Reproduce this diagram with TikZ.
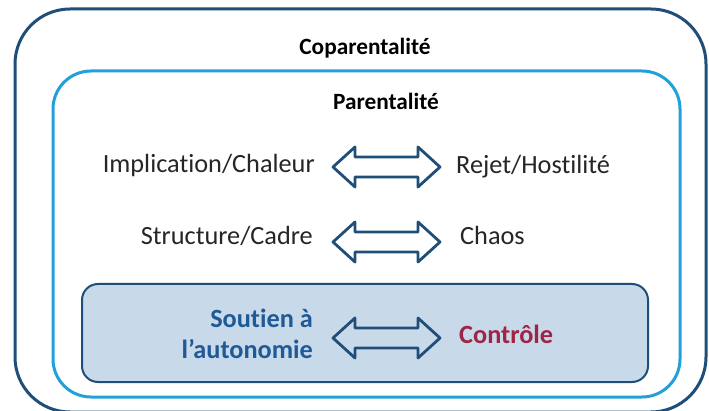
\documentclass[tikz,border=0pt]{standalone}
\usepackage{fontspec}
\setmainfont[Ligatures={NoCommon}]{Carlito}
\definecolor{outerblue}{HTML}{1F4E79}
\definecolor{innerblue}{HTML}{22A0DA}
\definecolor{boxfill}{HTML}{C8D9EA}
\definecolor{txtblue}{HTML}{1F5A96}
\definecolor{txtred}{HTML}{9E2545}
\definecolor{txtgray}{HTML}{262626}
\tikzset{
  frameouter/.style={draw=outerblue, line width=3pt, rounded corners=55pt},
  frameinner/.style={draw=innerblue, line width=3pt, rounded corners=38pt},
  greybox/.style={draw=outerblue, fill=boxfill, line width=2pt, rounded corners=16pt},
  header/.style={font=\fontsize{23.3}{26}\selectfont\bfseries, text=black, inner sep=0pt, anchor=base},
  lefttxt/.style={font=\fontsize{26.3}{30}\selectfont, text=txtgray, inner sep=0pt, anchor=base east},
  righttxt/.style={font=\fontsize{26.3}{30}\selectfont, text=txtgray, inner sep=0pt, anchor=base west},
  dblarrow/.style={draw=outerblue, line width=2.8pt, line join=round},
}
\newcommand{\dblarr}[3]{% left x, right x, y
  \draw[dblarrow] (#1,#3) -- ++(22,-20) -- ++(0,10) -- (#2-22,#3-10) -- ++(0,-10) -- (#2,#3)
    -- ++(-22,20) -- ++(0,-10) -- (#1+22,#3+10) -- ++(0,10) -- cycle;}
\begin{document}
\begin{tikzpicture}[x=1pt,y=-1pt]
\useasboundingbox (0,0) rectangle (709,411);
\clip (0,0) rectangle (709,411);
\fill[white] (0,0) rectangle (709,411);
\draw[frameouter] (15,9) rectangle (706,412);
\draw[frameinner] (53,71) rectangle (680,397);
\draw[greybox] (82,284) rectangle (648,382);
\node[header] (copar) at (365,55) {Coparentalité};
\node[header] (par) at (386,110) {Parentalité};
\node[lefttxt] (impl) at (315,173) {Implication/Chaleur};
\node[righttxt] (rejet) at (456,174) {Rejet/Hostilité};
\node[lefttxt] (struct) at (313,245) {Structure/Cadre};
\node[righttxt] (chaos) at (460,245) {Chaos};
\node[lefttxt, font=\fontsize{26.3}{31}\selectfont\bfseries, text=txtblue, align=right] (soutien) at (313,358) {Soutien à\\l’autonomie};
\node[righttxt, font=\fontsize{26.3}{30}\selectfont\bfseries, text=txtred] (controle) at (459,343) {Contrôle};
\dblarr{333}{440}{167}
\dblarr{333}{440}{242}
\dblarr{333}{440}{338}
\end{tikzpicture}
\end{document}
